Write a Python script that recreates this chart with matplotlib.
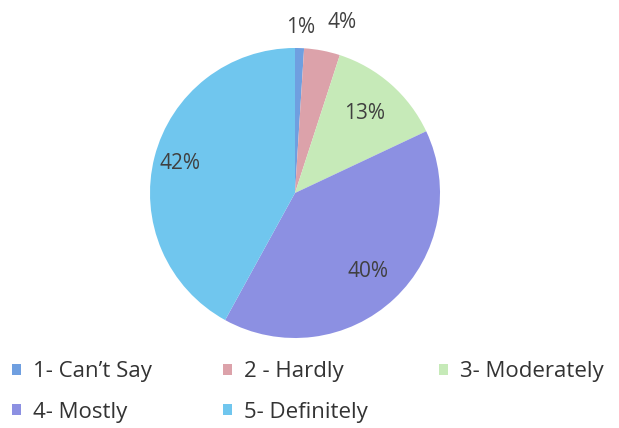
import numpy as np
import matplotlib.pyplot as plt

# dados
categorias = ["1- Can’t Say", "2 - Hardly", "3- Moderately", "4- Mostly", "5- Definitely"]
valores = [1, 4, 13, 40, 42]
cores = ["#6f9fe0", "#dca2aa", "#c6eab8", "#8c90e2", "#70c6ee"]

# posição dos rótulos: distância radial e alinhamento horizontal
dist_rotulo = [1.14, 1.2, 0.73, 0.74, 0.82]
alinh_rotulo = ['center', 'left', 'center', 'center', 'center']

plt.rcParams['font.family'] = ['Open Sans', 'DejaVu Sans']

fig = plt.figure(figsize=(6.19, 4.28), dpi=100)
ax = fig.add_axes([150 / 619, 90 / 428, 290 / 619, 290 / 428])

wedges, _ = ax.pie(valores, colors=cores, startangle=90, counterclock=False,
                   radius=1, wedgeprops=dict(linewidth=0))
ax.set_xlim(-1, 1)
ax.set_ylim(-1, 1)
ax.set_aspect('equal')
ax.axis('off')

for w, v, d, ha in zip(wedges, valores, dist_rotulo, alinh_rotulo):
    ang = np.deg2rad((w.theta1 + w.theta2) / 2)
    ax.text(d * np.cos(ang), d * np.sin(ang), f"{v}%", ha=ha, va='center',
            fontsize=15, color='#404040', clip_on=False)

# legenda preenche por coluna: reordena para ficar 1,2,3 / 4,5
ordem = [0, 3, 1, 4, 2]
leg = fig.legend([wedges[i] for i in ordem], [categorias[i] for i in ordem],
                 loc='center left', bbox_to_anchor=(12 / 619, 1 - 392 / 428),
                 ncol=3, frameon=False, fontsize=16, handlelength=0.4,
                 handleheight=0.4, handletextpad=0.55, columnspacing=3.2,
                 labelspacing=0.88, borderaxespad=0, borderpad=0,
                 labelcolor='#333333')

fig.savefig("out.png", dpi=100, facecolor='white')
